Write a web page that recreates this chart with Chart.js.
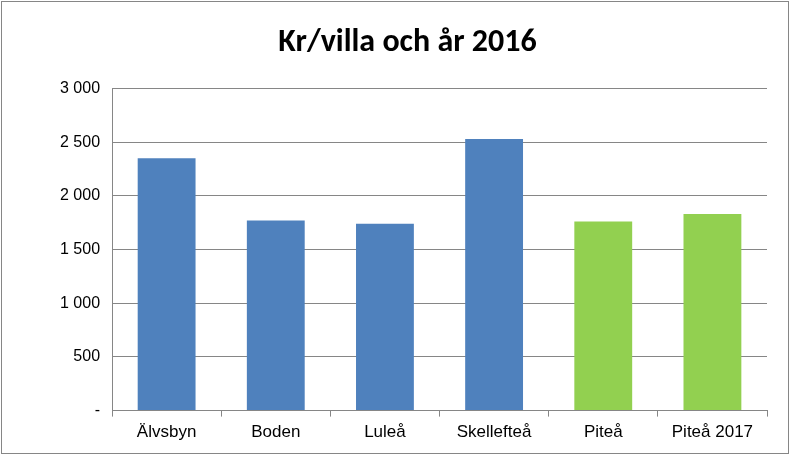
<!DOCTYPE html>
<html>
<head>
<meta charset="utf-8">
<script src="https://cdn.jsdelivr.net/npm/chart.js@4"></script>
<style>
  body { margin: 0; background: #fff; }
  .wrap { position: absolute; left: 1px; top: 1px; width: 786px; height: 451px; border: 1px solid #868686; }
</style>
</head>
<body>
<div class="wrap"><canvas id="chart" width="786" height="451"></canvas></div>
<script>
const categories = ["Älvsbyn", "Boden", "Luleå", "Skellefteå", "Piteå", "Piteå 2017"];
const values = [2350, 1770, 1740, 2530, 1760, 1830];
const barColors = ["#4F81BD", "#4F81BD", "#4F81BD", "#4F81BD", "#92D050", "#92D050"];

function fmt(v) {
  if (v === 0) return "-";
  return String(v).replace(/\B(?=(\d{3})+(?!\d))/g, " ");
}

var ctx = document.getElementById("chart").getContext("2d");
var myChart = new Chart(ctx, {
  type: "bar",
  data: {
    labels: categories,
    datasets: [{ data: values, backgroundColor: barColors, barPercentage: 0.53, categoryPercentage: 1 }],
  },
  options: {
    responsive: false,
    animation: false,
    layout: { padding: { left: 46, right: 21, top: 8, bottom: 4 } },
    plugins: {
      legend: { display: false },
      tooltip: { enabled: false },
      title: {
        display: true,
        text: "Kr/villa och år 2016",
        color: "#000",
        font: { family: "Calibri, Carlito, 'Open Sans', sans-serif", size: 32, weight: "bold" },
        padding: { top: 14, bottom: 26 },
      },
    },
    scales: {
      y: {
        min: 0, max: 3000,
        ticks: { stepSize: 500, color: "#000", font: { family: "Arial, 'Liberation Sans'", size: 16 }, padding: 12, callback: fmt },
        grid: { color: "#868686", drawTicks: false },
        border: { color: "#868686" },
      },
      x: {
        ticks: { color: "#000", font: { family: "Arial, 'Liberation Sans'", size: 17 }, padding: 6 },
        grid: { display: true, drawOnChartArea: false, offset: true, color: "#868686", tickLength: 6 },
        border: { color: "#868686" },
      },
    },
  },
});
</script>
</body>
</html>
